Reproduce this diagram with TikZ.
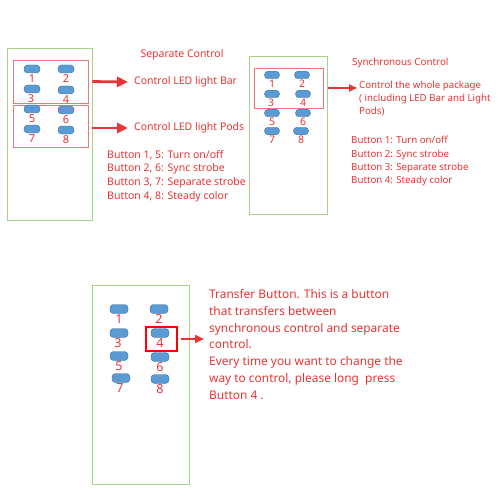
\documentclass[tikz,border=0pt]{standalone}
\usepackage{fontspec}
\setmainfont{Noto Sans}
\usetikzlibrary{positioning}
\usetikzlibrary{arrows.meta}
\definecolor{txtred}{RGB}{232,52,52}
\definecolor{boxgreen}{RGB}{169,209,142}
\definecolor{grpred}{RGB}{232,120,120}
\definecolor{btnblue}{RGB}{91,155,213}
\definecolor{btnedge}{RGB}{65,113,156}
\tikzstyle{remote} = [rectangle, 
draw=boxgreen, 
line width=0.9pt, 
inner sep=0pt]
\tikzstyle{group} = [rectangle, 
draw=grpred, 
line width=0.7pt, 
inner sep=0pt]
\tikzstyle{btn} = [rectangle, rounded corners=3.5pt, 
minimum width=16pt, 
minimum height=8pt, 
inner sep=0pt,
fill=btnblue, 
draw=btnedge, line width=0.4pt]
\tikzstyle{num} = [text=txtred, inner sep=0pt, 
font=\fontsize{11}{11}\selectfont]
\tikzstyle{note} = [text=txtred, inner sep=0pt, 
align=left,
font=\fontsize{10.5}{13.7}\selectfont]
\tikzstyle{arrow} = [draw=txtred, line width=2.8pt, -{Triangle[width=10pt, length=11pt]}]

\begin{document}
\begin{tikzpicture}[x=1pt, y=-1pt]
            \useasboundingbox (0,0) rectangle (500,500);

            % separate control
            \node (rem1) [remote, minimum width=85, minimum height=172] at (49.5,134) {};
            \node (bar) [group, minimum width=75, minimum height=43] at (50.5,81.5) {};
            \node (pods) [group, minimum width=75, minimum height=42] at (50.5,126) {};
            \node (a1) [btn] at (32,69) {};
            \node (a2) [btn] at (66,69) {};
            \node (a3) [btn] at (32,89) {};
            \node (a4) [btn] at (66,90) {};
            \node (a5) [btn] at (32,109) {};
            \node (a6) [btn] at (66,110) {};
            \node (a7) [btn] at (32,129) {};
            \node (a8) [btn] at (66,130) {};
            \node (na1) [num, below=1.2pt of a1] {1};
            \node (na2) [num, below=1.2pt of a2] {2};
            \node (na3) [num, below=1.2pt of a3, xshift=-1pt] {3};
            \node (na4) [num, below=1.2pt of a4] {4};
            \node (na5) [num, below=1.2pt of a5] {5};
            \node (na6) [num, below=1.2pt of a6] {6};
            \node (na7) [num, below=1.2pt of a7] {7};
            \node (na8) [num, below=1.2pt of a8] {8};
            \node (sep) [note] at (182,55) {Separate Control};
            \node (bartxt) [note, anchor=west] at (134,82) {Control LED light Bar};
            \node (podtxt) [note, anchor=west] at (134,128) {Control LED light Pods};
            \node (seplist) [note, anchor=north west] at (107,150) {Button 1, 5: Turn on/off\\ Button 2, 6: Sync strobe\\ Button 3, 7: Separate strobe\\ Button 4, 8: Steady color};

            \draw [arrow, shorten <=4pt] (bar.east) -- ([xshift=-6pt]bartxt.west);
            \draw [arrow, shorten <=4pt] (pods.east |- podtxt) -- ([xshift=-6pt]podtxt.west);

            % synchronous control
            \node (rem2) [remote, minimum width=78, minimum height=158] at (288,135) {};
            \node (whole) [group, minimum width=69, minimum height=40] at (288.5,88) {};
            \node (b1) [btn, minimum width=15, minimum height=7.5] at (272,75) {};
            \node (b2) [btn, minimum width=15, minimum height=7.5] at (302,75) {};
            \node (b3) [btn, minimum width=15, minimum height=7.5] at (272,94) {};
            \node (b4) [btn, minimum width=15, minimum height=7.5] at (303,94) {};
            \node (b5) [btn, minimum width=15, minimum height=7.5] at (272,113) {};
            \node (b6) [btn, minimum width=15, minimum height=7.5] at (303,113) {};
            \node (b7) [btn, minimum width=15, minimum height=7.5] at (272,131) {};
            \node (b8) [btn, minimum width=15, minimum height=7.5] at (301,131) {};
            \node (nb1) [num, below=1pt of b1, font=\fontsize{10.5}{10.5}\selectfont] {1};
            \node (nb2) [num, below=1pt of b2, font=\fontsize{10.5}{10.5}\selectfont] {2};
            \node (nb3) [num, below=1pt of b3, xshift=-1pt, font=\fontsize{10.5}{10.5}\selectfont] {3};
            \node (nb4) [num, below=1pt of b4, font=\fontsize{10.5}{10.5}\selectfont] {4};
            \node (nb5) [num, below=1pt of b5, font=\fontsize{10.5}{10.5}\selectfont] {5};
            \node (nb6) [num, below=1pt of b6, font=\fontsize{10.5}{10.5}\selectfont] {6};
            \node (nb7) [num, below=1pt of b7, font=\fontsize{10.5}{10.5}\selectfont] {7};
            \node (nb8) [num, below=1pt of b8, font=\fontsize{10.5}{10.5}\selectfont] {8};
            \node (sync) [note, anchor=west, font=\fontsize{9.8}{13}\selectfont] at (352,63) {Synchronous Control};
            \node (wholetxt) [note, anchor=north west, font=\fontsize{9.7}{13}\selectfont] at (359,81) {Control the whole package\\ ( including LED Bar and Light\\ Pods)};
            \node (synclist) [note, anchor=north west, font=\fontsize{9.7}{13.4}\selectfont] at (351,136) {Button 1: Turn on/off\\ Button 2: Sync strobe\\ Button 3: Separate strobe\\ Button 4: Steady color};

            \draw [arrow, line width=1.8pt, -{Triangle[width=7pt, length=8pt]}, shorten <=5pt] (whole.east) -- ([xshift=-2pt]wholetxt.north west |- whole.east);

            % transfer button
            \node (rem3) [remote, minimum width=97, minimum height=199] at (140.5,384.5) {};
            \node (c1) [btn, minimum width=18, minimum height=9] at (119,309) {};
            \node (c2) [btn, minimum width=18, minimum height=9] at (159,309) {};
            \node (c3) [btn, minimum width=18, minimum height=9] at (119,333) {};
            \node (c4) [btn, minimum width=18, minimum height=9] at (160,333) {};
            \node (c5) [btn, minimum width=18, minimum height=9] at (119,356) {};
            \node (c6) [btn, minimum width=18, minimum height=9] at (160,357) {};
            \node (c7) [btn, minimum width=18, minimum height=9] at (121,378) {};
            \node (c8) [btn, minimum width=18, minimum height=9] at (160,379) {};
            \node (nc1) [num, below=1pt of c1, font=\fontsize{12.5}{12.5}\selectfont] {1};
            \node (nc2) [num, below=1pt of c2, font=\fontsize{12.5}{12.5}\selectfont] {2};
            \node (nc3) [num, below=1pt of c3, xshift=-1pt, font=\fontsize{12.5}{12.5}\selectfont] {3};
            \node (nc4) [num, below=1pt of c4, font=\fontsize{12.5}{12.5}\selectfont] {4};
            \node (nc5) [num, below=1pt of c5, font=\fontsize{12.5}{12.5}\selectfont] {5};
            \node (nc6) [num, below=1pt of c6, font=\fontsize{12.5}{12.5}\selectfont] {6};
            \node (nc7) [num, below=1pt of c7, xshift=-1pt, font=\fontsize{12.5}{12.5}\selectfont] {7};
            \node (nc8) [num, below=1pt of c8, font=\fontsize{12.5}{12.5}\selectfont] {8};
            \node (xfer) [rectangle, draw=red, line width=1.3pt, minimum width=31, minimum height=24] at (161.5,339) {};
            \node (xfertxt) [note, anchor=north west, font=\fontsize{11.9}{16.7}\selectfont] at (209,289.5) {Transfer Button. This is a button\\ that transfers between\\ synchronous control and separate\\ control.\\ Every time you want to change the\\ way to control, please long\ \ press\\ Button 4 .};

            \draw [arrow, line width=2.2pt, -{Triangle[width=8pt, length=9pt]}, shorten <=3pt] (xfer.east) -- ([xshift=-5pt]xfertxt.west |- xfer.east);
        \end{tikzpicture}
\end{document}
